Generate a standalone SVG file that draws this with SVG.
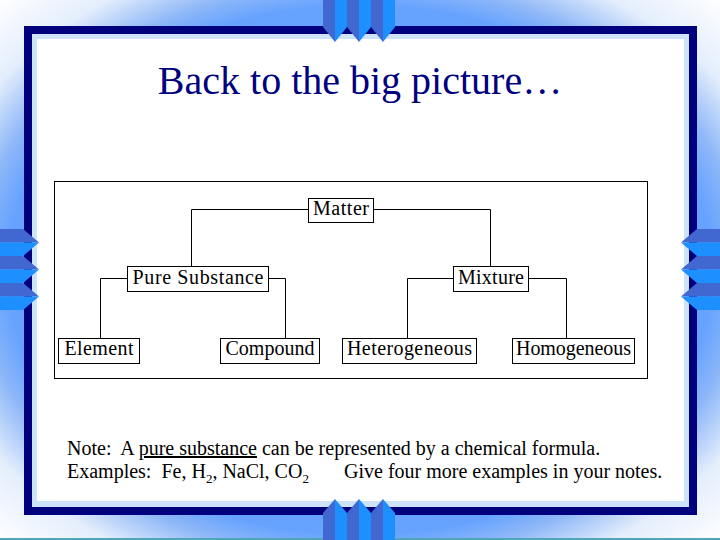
<svg xmlns="http://www.w3.org/2000/svg" xmlns:xlink="http://www.w3.org/1999/xlink" width="720" height="540" viewBox="0 0 720 540">
<defs>
<radialGradient id="bg" cx="50%" cy="50%" r="71%">
<stop offset="0" stop-color="#5E9BFF"/>
<stop offset="0.69" stop-color="#66A3FF"/>
<stop offset="0.75" stop-color="#8CB6F8"/>
<stop offset="0.86" stop-color="#E4EEFC"/>
<stop offset="1" stop-color="#FFFFFF"/>
</radialGradient>
<g id="tabTop"><path class="dk" d="M0 0H12V42L0 27Z"/><path class="br" d="M12 0H24V27L12 42Z"/></g>
<g id="tabBot"><path class="dk" d="M0 540H12V499L0 513Z"/><path class="br" d="M12 540H24V513L12 499Z"/></g>
<g id="tabLeft"><path class="dk" d="M0 0H23L39 13.5H0Z"/><path class="br" d="M0 13.5H39L23 27H0Z"/></g>
<g id="tabRight"><path class="dk" d="M720 0H697L681 13.5H720Z"/><path class="br" d="M720 13.5H681L697 27H720Z"/></g>
</defs>
<style>
.dk{fill:#4167D0}
.br{fill:#1E8FFF}
.node rect{fill:#FFFFFF;stroke:#000000;stroke-width:1}
.node text{font-family:"Liberation Serif","Times New Roman",serif;font-size:20px;text-anchor:middle;fill:#000000}
.conn path{fill:none;stroke:#000000;stroke-width:1}
.note{font-family:"Liberation Serif","Times New Roman",serif;font-size:20px;fill:#000000}
</style>
<rect x="0" y="0" width="720" height="540" fill="url(#bg)"/>
<rect x="0" y="538" width="720" height="2" fill="#4FA6B8"/>
<rect x="24" y="26" width="673" height="489" fill="#00007F"/>
<rect x="32" y="34" width="657" height="473" fill="#CDE3FA"/>
<rect x="37" y="39" width="647" height="462" fill="#FFFFFF"/>
<use xlink:href="#tabTop" x="323" y="0"/>
<use xlink:href="#tabTop" x="347" y="0"/>
<use xlink:href="#tabTop" x="371" y="0"/>
<use xlink:href="#tabBot" x="323" y="0"/>
<use xlink:href="#tabBot" x="347" y="0"/>
<use xlink:href="#tabBot" x="371" y="0"/>
<use xlink:href="#tabLeft" x="0" y="229"/>
<use xlink:href="#tabLeft" x="0" y="256"/>
<use xlink:href="#tabLeft" x="0" y="283"/>
<use xlink:href="#tabRight" x="0" y="229"/>
<use xlink:href="#tabRight" x="0" y="256"/>
<use xlink:href="#tabRight" x="0" y="283"/>
<text x="360" y="94" text-anchor="middle" font-family="'Liberation Serif','Times New Roman',serif" font-size="40" fill="#000080">Back to the big picture…</text>
<rect x="54.5" y="181.5" width="593" height="197" fill="none" stroke="#000000" stroke-width="1"/>
<g class="conn">
<path d="M308 209.5H191.5V267"/>
<path d="M374 209.5H490.5V267"/>
<path d="M127 278.5H100.5V338"/>
<path d="M268 278.5H285.5V338"/>
<path d="M453 278.5H407.5V338"/>
<path d="M528 278.5H566.5V338"/>
</g>
<g id="matter" class="node"><rect x="308.5" y="198.5" width="65" height="24"/><text x="341" y="215" textLength="56">Matter</text></g>
<g id="pure-substance" class="node"><rect x="127.5" y="266.5" width="141" height="25"/><text x="198" y="284" textLength="131">Pure Substance</text></g>
<g id="mixture" class="node"><rect x="453.5" y="266.5" width="75" height="25"/><text x="491" y="284" textLength="66">Mixture</text></g>
<g id="element" class="node"><rect x="58.5" y="338.5" width="81" height="25"/><text x="99" y="355" textLength="69">Element</text></g>
<g id="compound" class="node"><rect x="220.5" y="338.5" width="99" height="25"/><text x="270" y="355" textLength="89">Compound</text></g>
<g id="heterogeneous" class="node"><rect x="342.5" y="338.5" width="134" height="25"/><text x="409.5" y="355" textLength="125">Heterogeneous</text></g>
<g id="homogeneous" class="node"><rect x="512.5" y="338.5" width="122" height="25"/><text x="573.5" y="355" textLength="115">Homogeneous</text></g>
<text class="note" x="67" y="455" xml:space="preserve">Note:  A <tspan text-decoration="underline">pure substance</tspan> can be represented by a chemical formula.</text>
<text class="note" x="67" y="478" xml:space="preserve">Examples:  Fe, H<tspan font-size="13" dy="5">2</tspan><tspan dy="-5">, NaCl, CO</tspan><tspan font-size="13" dy="5">2</tspan></text>
<text class="note" x="344" y="478">Give four more examples in your notes.</text>
</svg>
